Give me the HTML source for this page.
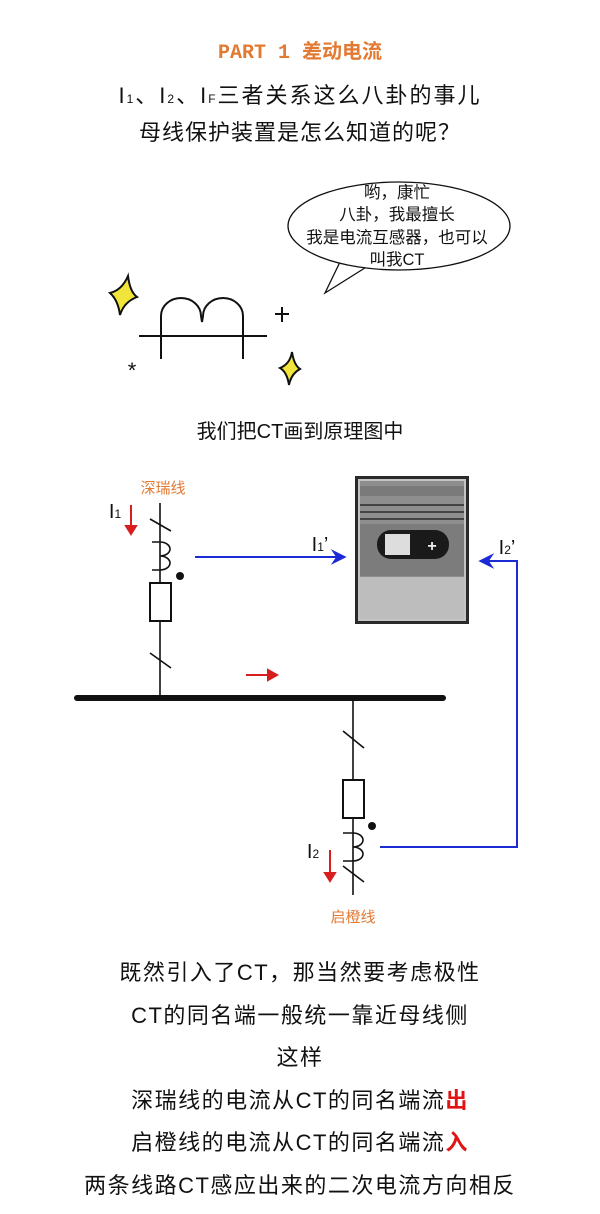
<!DOCTYPE html>
<html><head><meta charset="utf-8"><style>
html,body{margin:0;padding:0;background:#fff;}
svg{display:block;}
text{font-family:"Liberation Sans","Noto Sans CJK SC",sans-serif;}
</style></head><body>
<svg width="600" height="1214" viewBox="0 0 600 1214" xmlns="http://www.w3.org/2000/svg">
<text x="300" y="58" text-anchor="middle" font-size="20" font-weight="bold" fill="#e27a33" style="font-family:'Liberation Mono','Noto Sans CJK SC',monospace">PART 1 差动电流</text>
<text x="300" y="103" text-anchor="middle" font-size="22" fill="#111" letter-spacing="2">I<tspan font-size="12">1</tspan>、I<tspan font-size="12">2</tspan>、I<tspan font-size="12">F</tspan>三者关系这么八卦的事儿</text>
<text x="300" y="140" text-anchor="middle" font-size="22" fill="#111" letter-spacing="1">母线保护装置是怎么知道的呢？</text>

<!-- bubble -->
<path d="M340,262 L325,293 L368,266" fill="#fff" stroke="#111" stroke-width="1.3"/>
<ellipse cx="399" cy="226" rx="111" ry="44" fill="#fff" stroke="#111" stroke-width="1.3"/>
<path d="M341,258 L368,266" stroke="#fff" stroke-width="3"/>
<g font-size="16.5" fill="#111" text-anchor="middle">
<text x="397" y="198">哟，康忙</text>
<text x="397" y="220">八卦，我最擅长</text>
<text x="397" y="243">我是电流互感器，也可以</text>
<text x="397" y="265">叫我CT</text>
</g>
<!-- CT symbol -->
<g stroke="#111" stroke-width="2" fill="none">
<line x1="139" y1="336" x2="267" y2="336"/>
<path d="M161,359 L161,316 A20,18 0 0 1 201,316 L202,322 L203,316 A20,18 0 0 1 243,316 L243,359"/>
<path d="M275,314 h14 M282,307 v15"/>
</g>
<text x="132" y="378" font-size="22" text-anchor="middle" fill="#111">*</text>
<path d="M110,293 Q122,290 128,276 Q130,292 137,297 Q124,302 120,315 Q118,300 110,293Z" fill="#f1e53c" stroke="#111" stroke-width="2"/>
<path d="M280,368 Q290,364 292,352 Q294,365 300,369 Q291,374 289,385 Q287,372 280,368Z" fill="#f1e53c" stroke="#111" stroke-width="2"/>

<text x="300" y="438" text-anchor="middle" font-size="20" fill="#111">我们把CT画到原理图中</text>

<!-- diagram -->
<text x="163" y="493" text-anchor="middle" font-size="15" fill="#e27a33">深瑞线</text>
<g stroke="#111" stroke-width="1.6" fill="none">
<line x1="160" y1="503" x2="160" y2="697"/>
<line x1="150" y1="519" x2="171" y2="531"/>
<path d="M152,542 h8 a10,7 0 0 1 0,14 a10,7 0 0 1 0,14 h-8"/>
<rect x="150" y="583" width="21" height="38" fill="#fff" stroke-width="2"/>
<line x1="150" y1="653" x2="171" y2="668"/>
<line x1="353" y1="700" x2="353" y2="895"/>
<line x1="343" y1="731" x2="364" y2="748"/>
<rect x="343" y="780" width="21" height="38" fill="#fff" stroke-width="2"/>
<path d="M343,833 h10 a10,7 0 0 1 0,14 a10,7 0 0 1 0,14 h-10"/>
<line x1="343" y1="866" x2="364" y2="882"/>
</g>
<circle cx="180" cy="576" r="4" fill="#111"/>
<circle cx="372" cy="826" r="4" fill="#111"/>
<line x1="77" y1="698" x2="443" y2="698" stroke="#111" stroke-width="6" stroke-linecap="round"/>
<text x="115" y="518" font-size="20" text-anchor="middle" fill="#111">I<tspan font-size="12">1</tspan></text>
<text x="313" y="858" font-size="20" text-anchor="middle" fill="#111">I<tspan font-size="12">2</tspan></text>
<text x="353" y="922" text-anchor="middle" font-size="15" fill="#e27a33">启橙线</text>
<g stroke="#d71e1e" stroke-width="2" fill="#d71e1e">
<line x1="131" y1="505" x2="131" y2="528"/><path d="M126,526 L131,534 L136,526Z"/>
<line x1="330" y1="850" x2="330" y2="875"/><path d="M325,873 L330,881 L335,873Z"/>
<line x1="246" y1="675" x2="270" y2="675"/><path d="M268,670 L277,675 L268,680Z"/>
</g>
<g stroke="#1a2bd6" stroke-width="2" fill="none">
<line x1="195" y1="557" x2="340" y2="557"/>
<polyline points="380,847 517,847 517,561 485,561"/>
</g>
<path d="M345,557 L333,551 L337,557 L333,563Z" fill="#1a2bd6" stroke="#1a2bd6" stroke-width="1.5"/>
<path d="M480,561 L492,555 L488,561 L492,567Z" fill="#1a2bd6" stroke="#1a2bd6" stroke-width="1.5"/>
<text x="320" y="551" font-size="20" text-anchor="middle" fill="#111">I<tspan font-size="12">1</tspan>’</text>
<text x="507" y="554" font-size="20" text-anchor="middle" fill="#111">I<tspan font-size="12">2</tspan>’</text>
<!-- device -->
<rect x="355" y="476" width="114" height="148" fill="#2a2a2a"/>
<rect x="358" y="479" width="108" height="142" fill="#c4c4c4"/>
<rect x="360" y="481" width="104" height="96" fill="#8e8e8e"/>
<rect x="360" y="486" width="104" height="10" fill="#7a7a7a"/>
<rect x="360" y="504" width="104" height="2" fill="#444"/>
<rect x="360" y="511" width="104" height="2" fill="#444"/>
<rect x="360" y="518" width="104" height="2" fill="#444"/>
<rect x="360" y="524" width="104" height="52" fill="#7c7c7c"/>
<rect x="377" y="530" width="72" height="29" rx="14" fill="#1a1a1a"/>
<rect x="385" y="534" width="25" height="21" fill="#ddd"/>
<text x="432" y="551" font-size="16" text-anchor="middle" fill="#eee" font-weight="bold">+</text>
<rect x="360" y="577" width="104" height="42" fill="#bdbdbd"/>

<g font-size="22" fill="#111" text-anchor="middle" letter-spacing="1.5">
<text x="300" y="980">既然引入了CT，那当然要考虑极性</text>
<text x="300" y="1023">CT的同名端一般统一靠近母线侧</text>
<text x="300" y="1065">这样</text>
<text x="300" y="1108">深瑞线的电流从CT的同名端流<tspan fill="#e01414" font-weight="bold">出</tspan></text>
<text x="300" y="1150">启橙线的电流从CT的同名端流<tspan fill="#e01414" font-weight="bold">入</tspan></text>
<text x="300" y="1193">两条线路CT感应出来的二次电流方向相反</text>
</g>
</svg>
</body></html>
